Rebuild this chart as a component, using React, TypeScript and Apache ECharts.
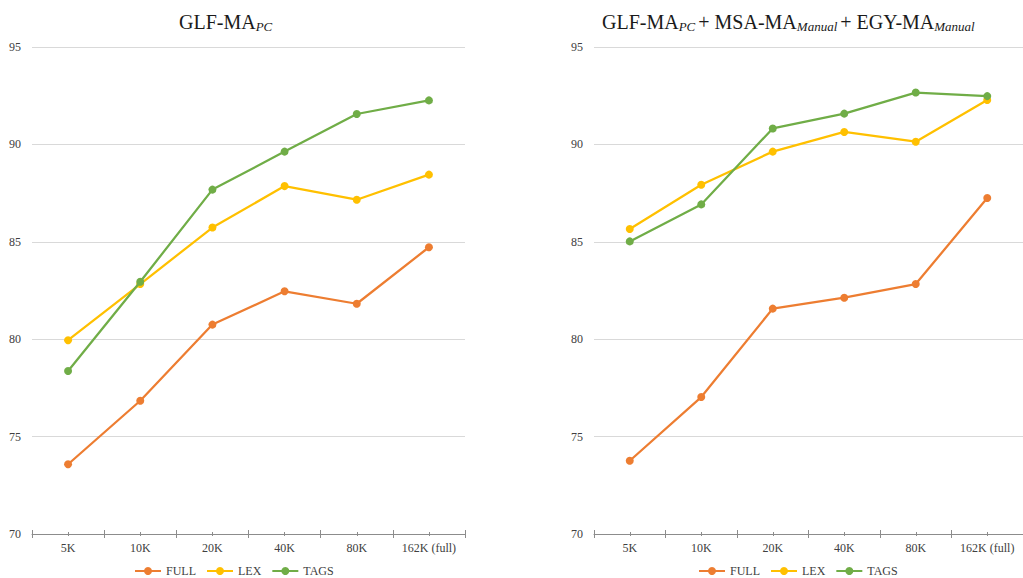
import React, { useEffect, useRef } from "react";
import * as echarts from "echarts";

const categories = ["5K", "10K", "20K", "40K", "80K", "162K (full)"];
const seriesNames = ["FULL", "LEX", "TAGS"];
const colors = ["#ED7D31", "#FFC000", "#70AD47"];

const leftFull = [73.58, 76.84, 80.75, 82.46, 81.82, 84.72];
const leftLex = [79.95, 82.83, 85.73, 87.86, 87.16, 88.45];
const leftTags = [78.37, 82.95, 87.68, 89.63, 91.56, 92.26];

const rightFull = [73.76, 77.03, 81.57, 82.13, 82.83, 87.25];
const rightLex = [85.66, 87.93, 89.63, 90.64, 90.14, 92.28];
const rightTags = [85.02, 86.92, 90.82, 91.58, 92.66, 92.48];

const yMin = 70;
const yMax = 95;
const yInterval = 5;

const FONT = "Liberation Serif";

export default function App() {
  const ref = useRef<HTMLDivElement>(null);

  useEffect(() => {
    document.body.style.margin = "0";
    if (!ref.current) return;
    const chart = echarts.init(ref.current, null, { renderer: "svg" });

    const grids = [
      { left: 32, top: 47, width: 433, height: 487 },
      { left: 594, top: 47, width: 433, height: 487 },
    ];

    const tickColor = "#8c8c8c";
    const xAxes: any[] = [];
    grids.forEach((_, gi) => {
      xAxes.push({
        type: "category",
        gridIndex: gi,
        position: "bottom",
        data: categories,
        boundaryGap: true,
        axisLine: { show: true, lineStyle: { color: tickColor, width: 1 } },
        axisTick: { show: true, length: 4, inside: false, lineStyle: { color: tickColor } },
        axisLabel: { color: "#404040", fontFamily: FONT, fontSize: 12, margin: 8 },
        splitLine: { show: false },
      });
      xAxes.push({
        type: "category",
        gridIndex: gi,
        position: "bottom",
        data: categories,
        boundaryGap: true,
        axisLine: { show: false },
        axisTick: { show: true, length: 4, inside: true, lineStyle: { color: tickColor } },
        axisLabel: { show: false },
        splitLine: { show: false },
      });
      xAxes.push({
        type: "category",
        gridIndex: gi,
        position: "bottom",
        data: categories,
        boundaryGap: true,
        axisLine: { show: false },
        axisTick: { show: true, alignWithLabel: true, length: 2, inside: false, lineStyle: { color: tickColor } },
        axisLabel: { show: false },
        splitLine: { show: false },
      });
      xAxes.push({
        type: "category",
        gridIndex: gi,
        position: "bottom",
        data: categories,
        boundaryGap: true,
        axisLine: { show: false },
        axisTick: { show: true, alignWithLabel: true, length: 2, inside: true, lineStyle: { color: tickColor } },
        axisLabel: { show: false },
        splitLine: { show: false },
      });
    });

    const yAxes = grids.map((_, gi) => ({
      type: "value",
      gridIndex: gi,
      min: yMin,
      max: yMax,
      interval: yInterval,
      axisLine: { show: false },
      axisTick: { show: false },
      axisLabel: { color: "#404040", fontFamily: FONT, fontSize: 12, margin: 11 },
      splitLine: { show: true, lineStyle: { color: "#d9d9d9", width: 1 } },
    }));

    const data = [
      [leftFull, leftLex, leftTags],
      [rightFull, rightLex, rightTags],
    ];

    const series: any[] = [];
    data.forEach((set, gi) => {
      set.forEach((vals, si) => {
        series.push({
          name: seriesNames[si],
          type: "line",
          xAxisIndex: gi * 4,
          yAxisIndex: gi,
          data: vals,
          symbol: "circle",
          symbolSize: 8,
          lineStyle: { color: colors[si], width: 2.25 },
          itemStyle: { color: colors[si] },
          z: 2 + si,
        });
      });
    });

    const legendBase = {
      orient: "horizontal",
      top: 565,
      padding: 0,
      itemWidth: 26,
      itemHeight: 10,
      itemGap: 10,
      data: seriesNames,
      textStyle: { color: "#404040", fontFamily: FONT, fontSize: 12 },
    };

    const richSub = {
      sub: { fontFamily: FONT, fontSize: 13, fontStyle: "italic", color: "#1a1a1a", padding: [9, 3, 0, 0] },
    };

    chart.setOption({
      animation: false,
      backgroundColor: "#ffffff",
      color: colors,
      textStyle: { fontFamily: FONT },
      grid: grids.map((g) => ({ ...g, containLabel: false })),
      xAxis: xAxes,
      yAxis: yAxes,
      series,
      legend: [
        { ...legendBase, left: 134 },
        { ...legendBase, left: 698 },
      ],
      title: [
        {
          text: "GLF-MA{sub|PC}",
          left: 174,
          top: 6,
          textStyle: { fontFamily: FONT, fontSize: 20, fontWeight: "normal", color: "#1a1a1a", rich: richSub },
        },
        {
          text: "GLF-MA{sub|PC}+ MSA-MA{sub|Manual}+ EGY-MA{sub|Manual}",
          left: 597,
          top: 6,
          textStyle: { fontFamily: FONT, fontSize: 20, fontWeight: "normal", color: "#1a1a1a", rich: richSub },
        },
      ],
    });

    return () => chart.dispose();
  }, []);

  return <div ref={ref} style={{ width: 1023, height: 578 }} />;
}
